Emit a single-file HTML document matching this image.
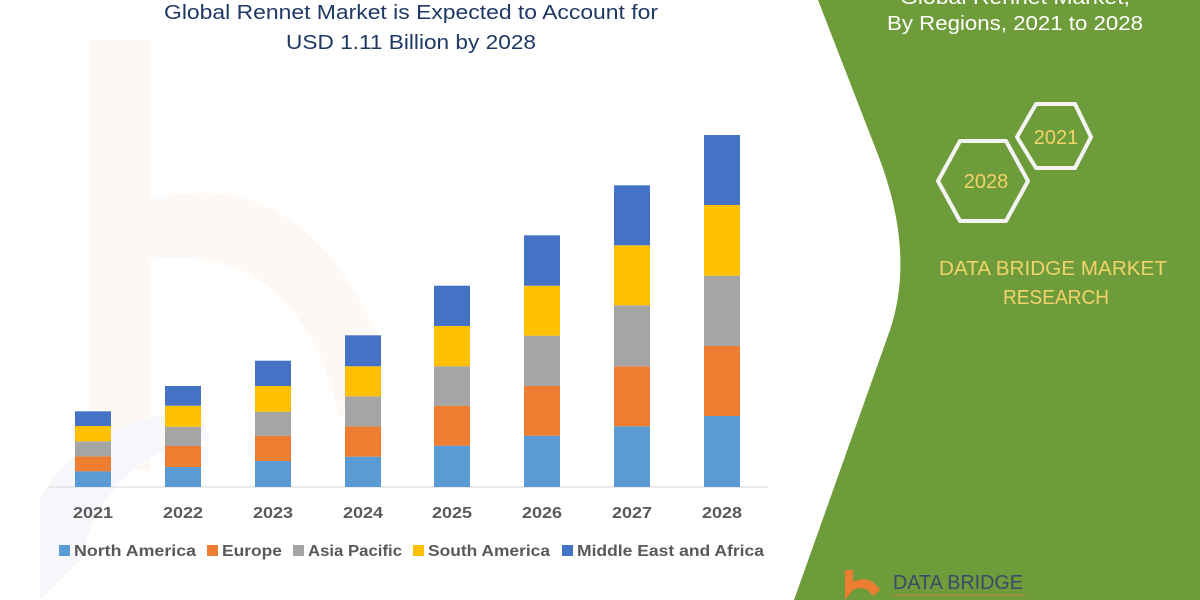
<!DOCTYPE html>
<html><head><meta charset="utf-8"><style>
html,body{margin:0;padding:0;background:#fff;}
svg{display:block;font-family:"Liberation Sans",sans-serif;}
</style></head><body>
<svg width="1200" height="600" viewBox="0 0 1200 600" xmlns="http://www.w3.org/2000/svg">
<rect width="1200" height="600" fill="#fff"/>
<!-- faint watermark -->
<path d="M90 40 L150 40 L150 200 Q300 160 380 340 L340 420 Q300 240 150 260 L150 470 L90 470 Z" fill="#fef8f4"/>
<path d="M40 500 Q80 420 200 410 L210 440 Q110 450 80 560 L40 600 Z" fill="#f5f7fa"/>
<!-- green panel -->
<path d="M818 0 L1200 0 L1200 600 L794 600 L890 330 Q915 255 880 160 Z" fill="#6f9c3a"/>
<!-- title -->
<g fill="#1f3864" font-size="20" text-anchor="middle">
<text x="411" y="19" textLength="494" lengthAdjust="spacingAndGlyphs">Global Rennet Market is Expected to Account for</text>
<text x="411" y="49" textLength="250" lengthAdjust="spacingAndGlyphs">USD 1.11 Billion by 2028</text>
</g>
<line x1="48" y1="487" x2="768" y2="487" stroke="#e3e3e3" stroke-width="1.5"/>
<g>
<rect x="75" y="471.3" width="36" height="15.7" fill="#5b9bd5"/>
<rect x="75" y="456.3" width="36" height="15" fill="#ed7d31"/>
<rect x="75" y="441.3" width="36" height="15" fill="#a5a5a5"/>
<rect x="75" y="426" width="36" height="15.3" fill="#ffc000"/>
<rect x="75" y="411.3" width="36" height="14.7" fill="#4472c4"/>
<rect x="165" y="467" width="36" height="20" fill="#5b9bd5"/>
<rect x="165" y="446" width="36" height="21" fill="#ed7d31"/>
<rect x="165" y="426.7" width="36" height="19.3" fill="#a5a5a5"/>
<rect x="165" y="405.7" width="36" height="21" fill="#ffc000"/>
<rect x="165" y="386" width="36" height="19.7" fill="#4472c4"/>
<rect x="255" y="461" width="36" height="26" fill="#5b9bd5"/>
<rect x="255" y="435.7" width="36" height="25.3" fill="#ed7d31"/>
<rect x="255" y="411.7" width="36" height="24" fill="#a5a5a5"/>
<rect x="255" y="386" width="36" height="25.7" fill="#ffc000"/>
<rect x="255" y="360.7" width="36" height="25.3" fill="#4472c4"/>
<rect x="345" y="456.7" width="36" height="30.3" fill="#5b9bd5"/>
<rect x="345" y="426.3" width="36" height="30.4" fill="#ed7d31"/>
<rect x="345" y="396.3" width="36" height="30" fill="#a5a5a5"/>
<rect x="345" y="366.3" width="36" height="30" fill="#ffc000"/>
<rect x="345" y="335.3" width="36" height="31" fill="#4472c4"/>
<rect x="434" y="445.7" width="36" height="41.3" fill="#5b9bd5"/>
<rect x="434" y="405.7" width="36" height="40" fill="#ed7d31"/>
<rect x="434" y="366.3" width="36" height="39.4" fill="#a5a5a5"/>
<rect x="434" y="326" width="36" height="40.3" fill="#ffc000"/>
<rect x="434" y="285.7" width="36" height="40.3" fill="#4472c4"/>
<rect x="524" y="435.7" width="36" height="51.3" fill="#5b9bd5"/>
<rect x="524" y="386" width="36" height="49.7" fill="#ed7d31"/>
<rect x="524" y="335.7" width="36" height="50.3" fill="#a5a5a5"/>
<rect x="524" y="285.7" width="36" height="50" fill="#ffc000"/>
<rect x="524" y="235.3" width="36" height="50.4" fill="#4472c4"/>
<rect x="614" y="426.3" width="36" height="60.7" fill="#5b9bd5"/>
<rect x="614" y="366.3" width="36" height="60" fill="#ed7d31"/>
<rect x="614" y="305.3" width="36" height="61" fill="#a5a5a5"/>
<rect x="614" y="245.3" width="36" height="60" fill="#ffc000"/>
<rect x="614" y="185.3" width="36" height="60" fill="#4472c4"/>
<rect x="704" y="416" width="36" height="71" fill="#5b9bd5"/>
<rect x="704" y="346" width="36" height="70" fill="#ed7d31"/>
<rect x="704" y="275.7" width="36" height="70.3" fill="#a5a5a5"/>
<rect x="704" y="205" width="36" height="70.7" fill="#ffc000"/>
<rect x="704" y="135" width="36" height="70" fill="#4472c4"/>
</g>
<g fill="#595959" font-size="16" font-weight="bold" text-anchor="middle">
<text x="93" y="518" textLength="40" lengthAdjust="spacingAndGlyphs">2021</text>
<text x="183" y="518" textLength="40" lengthAdjust="spacingAndGlyphs">2022</text>
<text x="273" y="518" textLength="40" lengthAdjust="spacingAndGlyphs">2023</text>
<text x="363" y="518" textLength="40" lengthAdjust="spacingAndGlyphs">2024</text>
<text x="452" y="518" textLength="40" lengthAdjust="spacingAndGlyphs">2025</text>
<text x="542" y="518" textLength="40" lengthAdjust="spacingAndGlyphs">2026</text>
<text x="632" y="518" textLength="40" lengthAdjust="spacingAndGlyphs">2027</text>
<text x="722" y="518" textLength="40" lengthAdjust="spacingAndGlyphs">2028</text>
</g>
<g fill="#595959" font-size="16" font-weight="bold">
<rect x="59" y="545" width="11" height="11" fill="#5b9bd5"/>
<text x="74" y="556" textLength="122" lengthAdjust="spacingAndGlyphs">North America</text>
<rect x="207" y="545" width="11" height="11" fill="#ed7d31"/>
<text x="222" y="556" textLength="60" lengthAdjust="spacingAndGlyphs">Europe</text>
<rect x="293" y="545" width="11" height="11" fill="#a5a5a5"/>
<text x="308" y="556" textLength="94" lengthAdjust="spacingAndGlyphs">Asia Pacific</text>
<rect x="413" y="545" width="11" height="11" fill="#ffc000"/>
<text x="428" y="556" textLength="122" lengthAdjust="spacingAndGlyphs">South America</text>
<rect x="562" y="545" width="11" height="11" fill="#4472c4"/>
<text x="577" y="556" textLength="187" lengthAdjust="spacingAndGlyphs">Middle East and Africa</text>
</g>
<g fill="#ffffff" font-size="20" text-anchor="middle">
<text x="1015" y="4" textLength="230" lengthAdjust="spacingAndGlyphs">Global Rennet Market,</text>
<text x="1015" y="30" textLength="256" lengthAdjust="spacingAndGlyphs">By Regions, 2021 to 2028</text>
</g>
<g fill="none" stroke="#f4f4f4" stroke-width="4" stroke-linejoin="round">
<polygon points="938,181 960,141 1006,141 1028,181 1006,221 960,221"/>
<polygon points="1017,137 1036,104 1075,104 1091,137 1075,168 1036,168"/>
</g>
<g fill="#f2d36b" font-size="20" text-anchor="middle">
<text x="986" y="188">2028</text>
<text x="1056" y="144">2021</text>
<text x="1053" y="275" textLength="228" lengthAdjust="spacingAndGlyphs">DATA BRIDGE MARKET</text>
<text x="1056" y="304" textLength="106" lengthAdjust="spacingAndGlyphs">RESEARCH</text>
</g>
<path d="M845 570 L853 570 L853 582 Q870 574 880 590 L873 596 Q865 584 853 590 L845 600 Z" fill="#ed7d31"/>
<text x="893" y="589" fill="#3a4a6b" font-size="20" textLength="130" lengthAdjust="spacingAndGlyphs">DATA BRIDGE</text>
<line x1="893" y1="595" x2="1025" y2="595" stroke="#c77b4a" stroke-width="1"/>
</svg>
</body></html>
